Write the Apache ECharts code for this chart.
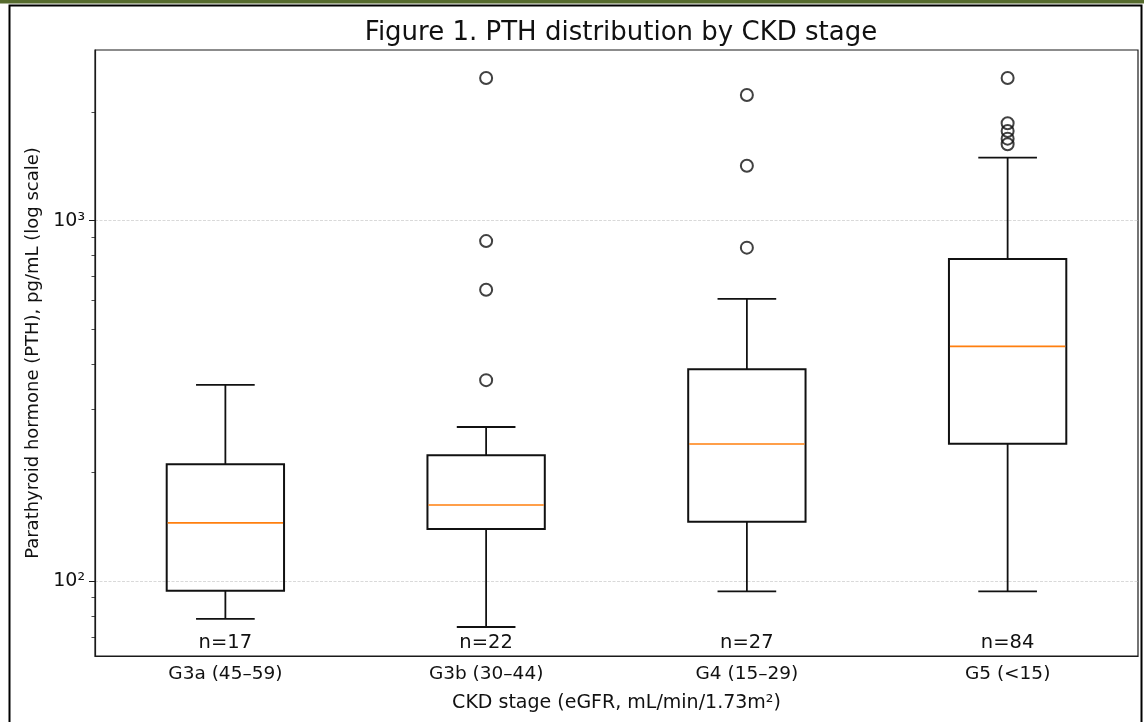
<!DOCTYPE html>
<html>
<head>
<meta charset="utf-8">
<script src="https://cdn.jsdelivr.net/npm/echarts@6/dist/echarts.min.js"></script>
<style>html,body{margin:0;padding:0;background:#fff}#chart{width:1144px;height:722px}</style>
</head>
<body>
<div id="chart"></div>
<script>
// ---- data ----
const categories = ['G3a (45–59)', 'G3b (30–44)', 'G4 (15–29)', 'G5 (<15)'];
const nLabels = ['n=17', 'n=22', 'n=27', 'n=84'];
const whiskerLow = [78.5, 74.5, 93.5, 93.5];
const q1 = [94, 139.5, 146, 240.5];
const median = [145, 162.5, 240, 448];
const q3 = [211, 223.5, 387, 783];
const whiskerHigh = [350, 267.5, 607, 1496];
const outliersG3a = [];
const outliersG3b = [2490, 878, 643, 361];
const outliersG4 = [2233, 1421, 842];
const outliersG5 = [2490, 1864, 1775, 1690, 1630];
const yMajorTicks = [100, 1000];
const yMinorTicks = [70, 80, 90, 200, 300, 400, 500, 600, 700, 800, 900, 2000];

const outlierGroups = [outliersG3a, outliersG3b, outliersG4, outliersG5];
const boxData = categories.map((c, i) => [i, whiskerLow[i], q1[i], median[i], q3[i], whiskerHigh[i]]);
const outlierData = [];
outlierGroups.forEach((g, i) => g.forEach(v => outlierData.push([i, v])));

const FONT = 'DejaVu Sans';
const TXT = '#111';
const sup = {'0':'⁰','1':'¹','2':'²','3':'³','4':'⁴','5':'⁵','6':'⁶','7':'⁷','8':'⁸','9':'⁹'};

const chart = echarts.init(document.getElementById('chart'), null, {renderer: 'canvas'});
chart.setOption({
  animation: false,
  backgroundColor: '#fff',
  title: {
    text: 'Figure 1. PTH distribution by CKD stage',
    left: 616, textAlign: 'center', top: 15,
    textStyle: {fontFamily: FONT, fontSize: 26, fontWeight: 'normal', color: TXT}
  },
  graphic: [
    {type: 'rect', shape: {x: 0, y: 0, width: 1144, height: 3.5}, style: {fill: '#566b2e'}, silent: true},
    {type: 'rect', shape: {x: 9.5, y: 5.5, width: 1132, height: 740}, style: {fill: 'none', stroke: '#000', lineWidth: 2}, silent: true}
  ],
  grid: {left: 95, right: 6, top: 50, bottom: 66, show: true, borderColor: '#1a1a1a', borderWidth: 1.2, backgroundColor: 'transparent'},
  xAxis: [
    {
      type: 'category', data: categories, position: 'bottom',
      axisLine: {lineStyle: {color: '#1a1a1a', width: 1.2}},
      axisTick: {alignWithLabel: true, length: 5, lineStyle: {color: '#1a1a1a'}},
      axisLabel: {fontFamily: FONT, fontSize: 18.5, color: TXT, margin: 9},
      name: 'CKD stage (eGFR, mL/min/1.73m²)', nameLocation: 'middle', nameGap: 38,
      nameTextStyle: {fontFamily: FONT, fontSize: 19, color: TXT},
      splitLine: {show: false}
    },
    {
      type: 'category', data: nLabels, position: 'bottom',
      axisLine: {show: false}, axisTick: {show: false},
      axisLabel: {inside: true, fontFamily: FONT, fontSize: 19.5, color: TXT, margin: 3},
      splitLine: {show: false}
    }
  ],
  yAxis: [
    {
      type: 'log', logBase: 10, min: 61.9, max: 2978,
      axisLine: {show: true, lineStyle: {color: '#1a1a1a', width: 1.2}},
      axisTick: {show: true, length: 6, customValues: yMajorTicks, lineStyle: {color: '#1a1a1a'}},
      axisLabel: {
        customValues: yMajorTicks, fontFamily: FONT, fontSize: 19, color: TXT, margin: 10,
        formatter: v => '10' + String(Math.round(Math.log10(v))).split('').map(d => sup[d]).join('')
      },
      minorTick: {show: false},
      splitLine: {show: true, lineStyle: {color: '#cfcfcf', width: 0.8, type: [3, 1.5]}},
      name: 'Parathyroid hormone (PTH), pg/mL (log scale)', nameLocation: 'middle', nameRotate: 90, nameGap: 53,
      nameTextStyle: {fontFamily: FONT, fontSize: 18, color: TXT}
    },
    {
      type: 'log', logBase: 10, min: 61.9, max: 2978, position: 'left',
      axisLine: {show: false},
      axisTick: {show: true, length: 3.5, customValues: yMinorTicks, lineStyle: {color: '#1a1a1a', width: 0.8}},
      axisLabel: {show: false},
      splitLine: {show: false}
    }
  ],
  series: [
    {
      type: 'custom', xAxisIndex: 0, yAxisIndex: 0, z: 3,
      data: boxData,
      renderItem: function (params, api) {
        const x = api.value(0);
        const band = api.size([1, 100])[0];
        const bw = band * 0.45, cw = band * 0.225;
        const pLo = api.coord([x, api.value(1)]);
        const pQ1 = api.coord([x, api.value(2)]);
        const pMed = api.coord([x, api.value(3)]);
        const pQ3 = api.coord([x, api.value(4)]);
        const pHi = api.coord([x, api.value(5)]);
        const cx = pMed[0];
        const wStyle = {stroke: '#111', lineWidth: 1.8};
        return {
          type: 'group',
          children: [
            {type: 'line', shape: {x1: cx, y1: pQ1[1], x2: cx, y2: pLo[1]}, style: wStyle},
            {type: 'line', shape: {x1: cx, y1: pQ3[1], x2: cx, y2: pHi[1]}, style: wStyle},
            {type: 'line', shape: {x1: cx - cw / 2, y1: pLo[1], x2: cx + cw / 2, y2: pLo[1]}, style: wStyle},
            {type: 'line', shape: {x1: cx - cw / 2, y1: pHi[1], x2: cx + cw / 2, y2: pHi[1]}, style: wStyle},
            {type: 'rect', shape: {x: cx - bw / 2, y: pQ3[1], width: bw, height: pQ1[1] - pQ3[1]},
             style: {fill: 'none', stroke: '#111', lineWidth: 2}},
            {type: 'line', shape: {x1: cx - bw / 2 + 1, y1: pMed[1], x2: cx + bw / 2 - 1, y2: pMed[1]},
             style: {stroke: '#ff7f0e', lineWidth: 1.6}}
          ]
        };
      }
    },
    {
      type: 'scatter', xAxisIndex: 0, yAxisIndex: 0, z: 4,
      data: outlierData,
      symbol: 'circle', symbolSize: 12,
      itemStyle: {color: 'rgba(0,0,0,0)', borderColor: '#111', borderWidth: 2}
    }
  ]
});
</script>
</body>
</html>
